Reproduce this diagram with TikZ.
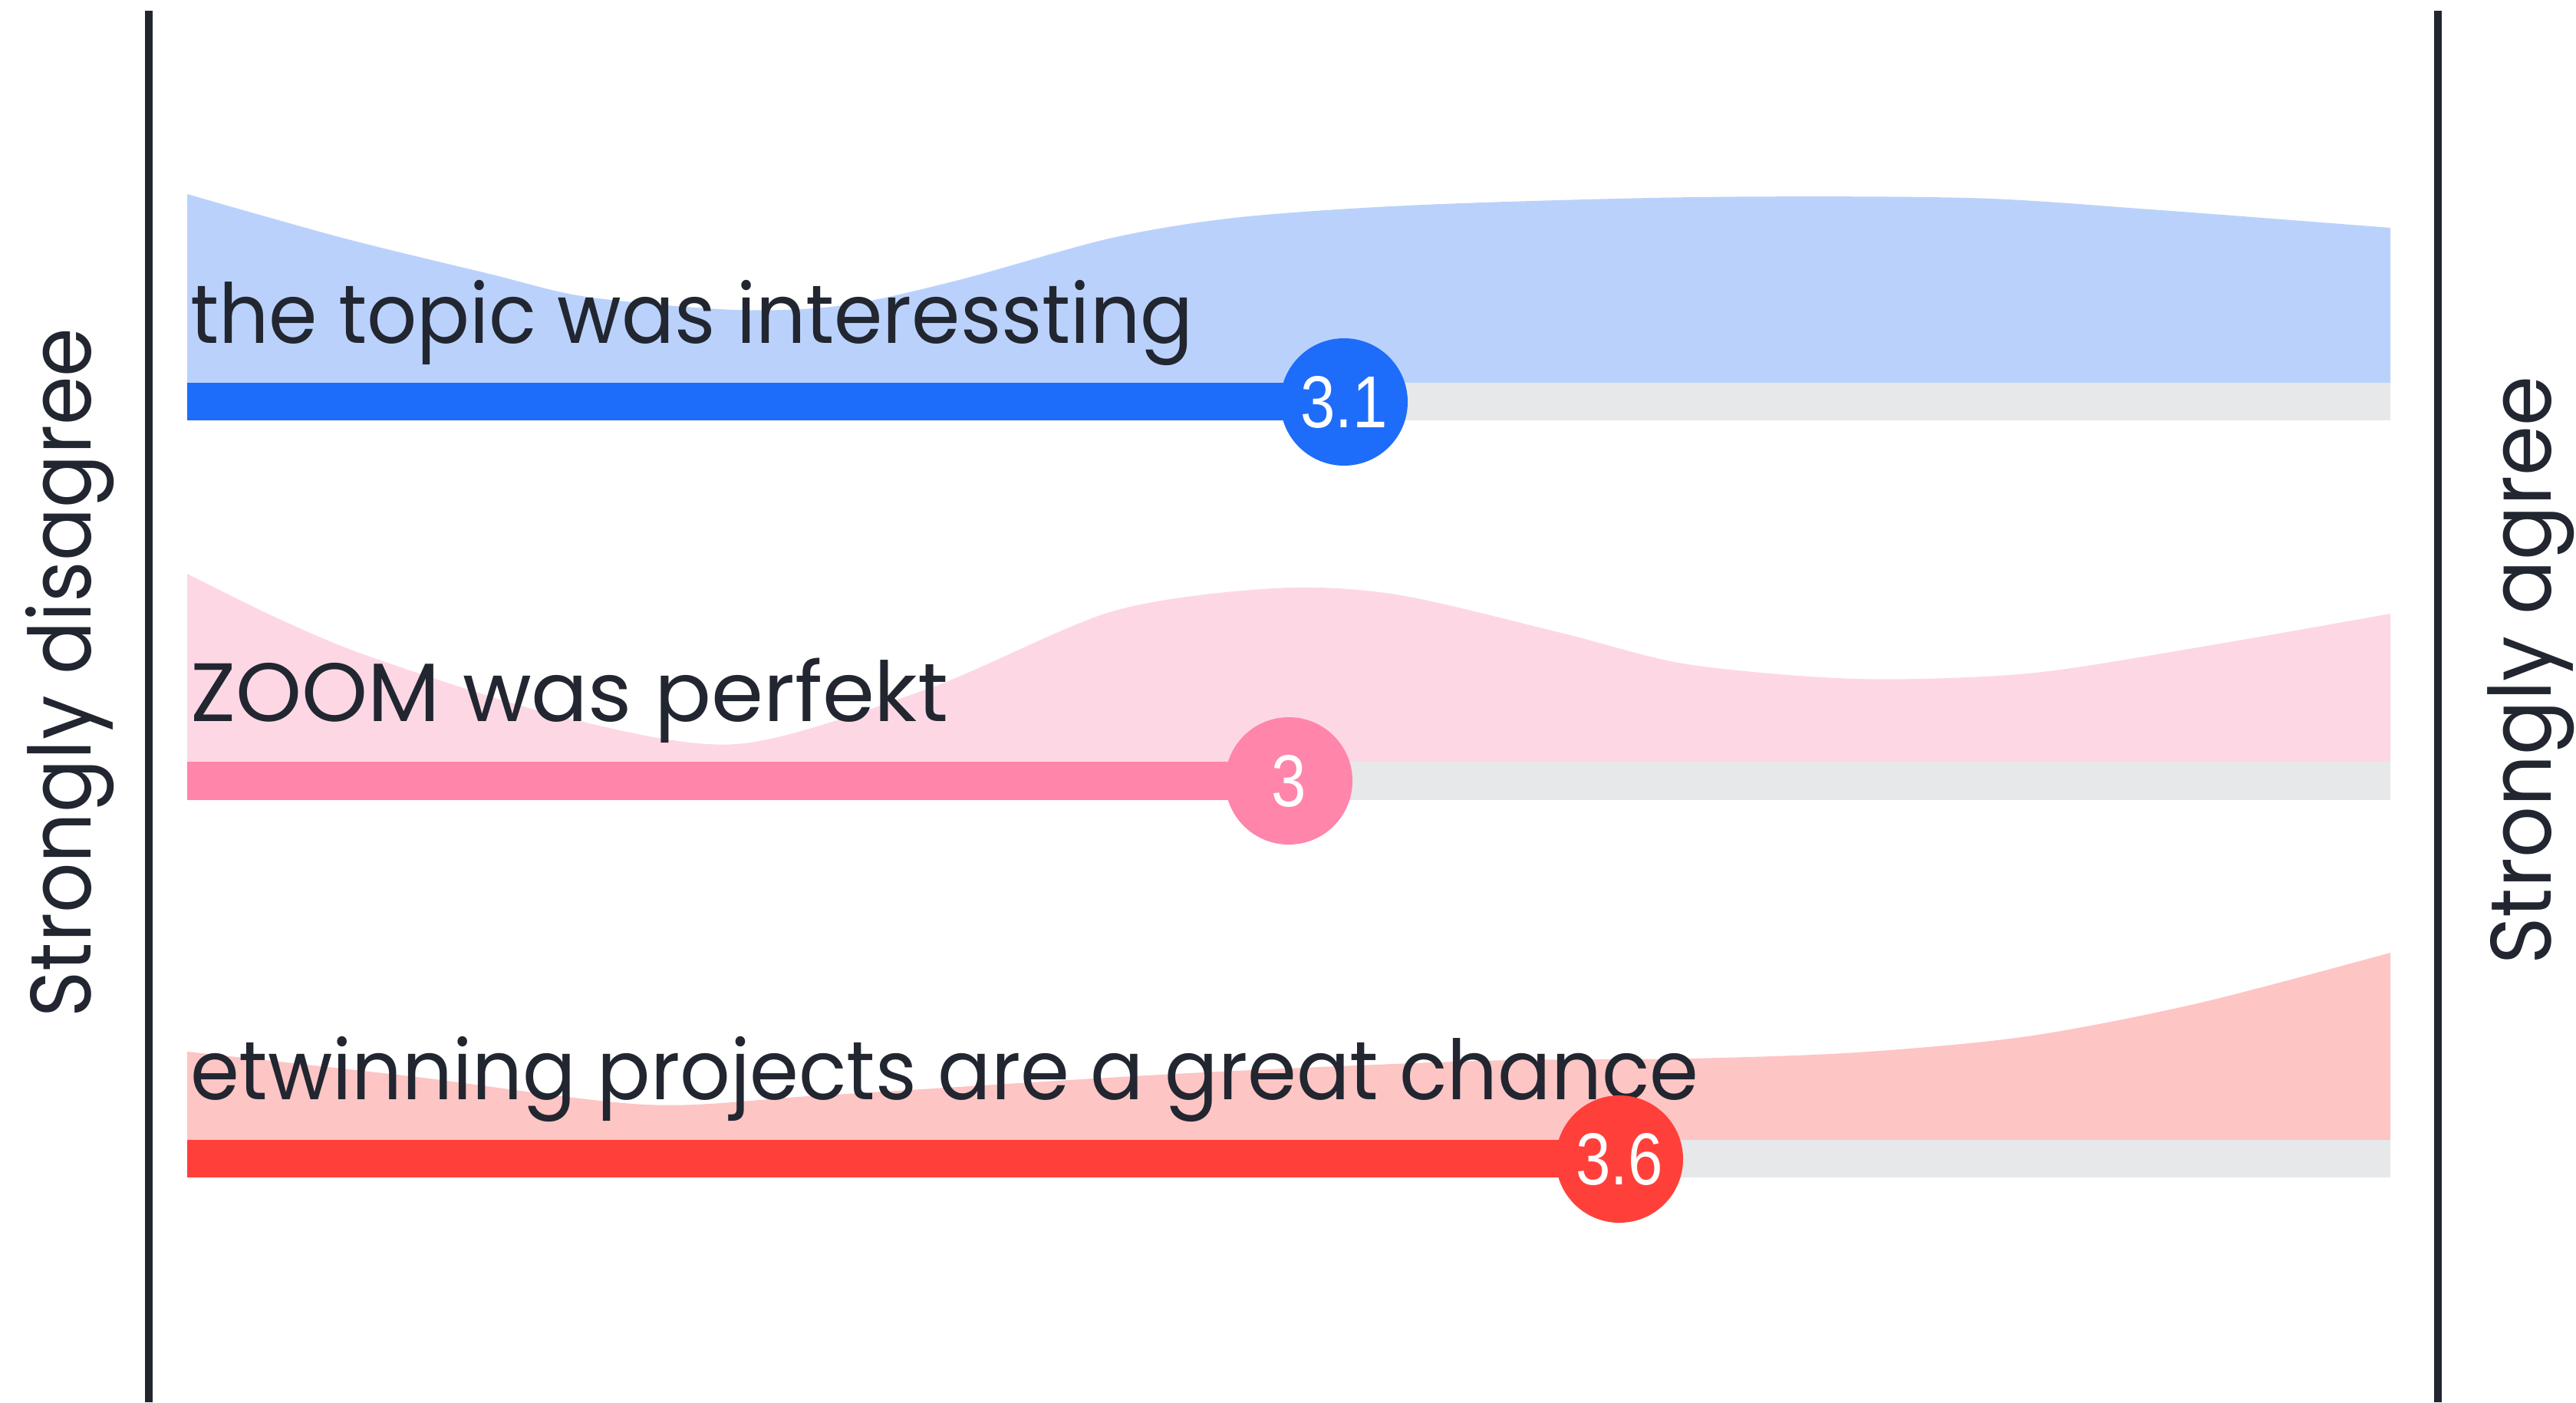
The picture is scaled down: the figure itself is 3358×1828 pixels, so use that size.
\documentclass[tikz,border=0pt]{standalone}
\usepackage{fontspec}
\usepackage{graphicx}
\newfontfamily\popfont{Poppins}
\newfontfamily\numfont{Liberation Sans}
\definecolor{ink}{RGB}{33,38,48}
\definecolor{track}{RGB}{230,232,234}
\definecolor{blueB}{RGB}{30,108,250}
\definecolor{blueA}{RGB}{186,210,251}
\definecolor{pinkB}{RGB}{255,133,170}
\definecolor{pinkA}{RGB}{253,216,228}
\definecolor{redB}{RGB}{255,64,58}
\definecolor{redA}{RGB}{253,197,196}
\begin{document}
\begin{tikzpicture}[x=1pt,y=-1pt,
  lbl/.style={anchor=base west, inner sep=0pt, text=ink, font=\popfont\fontsize{108}{120}\selectfont},
  sidelbl/.style={anchor=base, rotate=90, inner sep=0pt, text=ink, font=\popfont\fontsize{112}{130}\selectfont},
  dot/.style={circle, inner sep=0pt, minimum size=166pt, text=white, font=\numfont\fontsize{96}{100}\selectfont},
  axisline/.style={draw=ink, line width=10pt},
  trackbar/.style={fill=track},
]
\useasboundingbox (0,0) rectangle (3358,1828);
\fill[white] (0,0) rectangle (3358,1828);

% axes
\coordinate (lt) at (194,14);
\coordinate (lb) at (194,1828);
\coordinate (rt) at (3178,14);
\coordinate (rb) at (3178,1828);
\draw[axisline] (lt) -- (lb);
\draw[axisline] (rt) -- (rb);
\node[sidelbl] (dis) at (118,877) {\resizebox{899pt}{\height}{Strongly disagree}};
\node[sidelbl] (agr) at (3325,874) {\resizebox{767pt}{\height}{Strongly agree}};

% row 1
\fill[blueA] (244,499) -- plot[smooth] coordinates {(244,253) (446,310) (638,357) (765,387) (960,404) (1100,398) (1250,365) (1450,310) (1618,283) (1855,267) (2211,257) (2566,258) (2803,273) (3116,297)} -- (3116,499) -- cycle;
\fill[trackbar] (244,499) rectangle (3116,548);
\fill[blueB] (244,499) rectangle (1752,548);
\node[lbl] (l1) at (248,447) {\resizebox{1307pt}{\height}{the topic was interessting}};
\node[dot, fill=blueB] (v1) at (1752,524) {\scalebox{0.85}[1]{3.1}};

% row 2
\fill[pinkA] (244,993) -- plot[smooth] coordinates {(244,748) (364,807) (485,857) (727,933) (960,970) (1212,897) (1450,797) (1660,767) (1820,775) (2035,825) (2200,866) (2421,885) (2643,878) (2865,844) (3116,800)} -- (3116,993) -- cycle;
\fill[trackbar] (244,993) rectangle (3116,1043);
\fill[pinkB] (244,993) rectangle (1680,1043);
\node[lbl] (l2) at (248,940) {\resizebox{988pt}{\height}{ZOOM was perfekt}};
\node[dot, fill=pinkB] (v2) at (1680,1018) {\scalebox{0.85}[1]{3}};

% row 3
\fill[redA] (244,1486) -- plot[smooth] coordinates {(244,1371) (535,1403) (842,1440) (1071,1428) (1531,1400) (1928,1383) (2200,1380) (2421,1372) (2643,1351) (2865,1308) (3116,1242)} -- (3116,1486) -- cycle;
\fill[trackbar] (244,1486) rectangle (3116,1535);
\fill[redB] (244,1486) rectangle (2111,1535);
\node[lbl] (l3) at (248,1433) {\resizebox{1966pt}{\height}{etwinning projects are a great chance}};
\node[dot, fill=redB] (v3) at (2111,1511) {\scalebox{0.85}[1]{3.6}};
\end{tikzpicture}
\end{document}
